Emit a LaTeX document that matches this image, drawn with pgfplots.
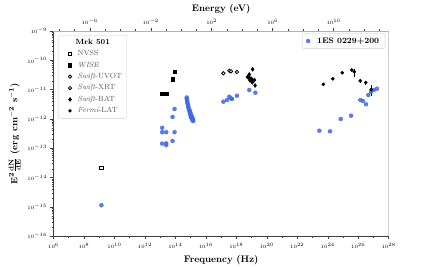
\documentclass[border=0pt]{standalone}
\usepackage{pgfplots}
\pgfplotsset{compat=1.18}
\definecolor{royal}{HTML}{4169E1}
\begin{document}
\begin{tikzpicture}
\begin{axis}[
  at={(0,0)}, anchor=south west,
  scale only axis, width=335.2pt, height=205.3pt,
  xmode=log, ymode=log,
  xmin=1e6, xmax=1e28, ymin=1e-16, ymax=1e-9,
  axis x line*=bottom, axis y line*=left,
  axis line style={black!75, line width=0.7pt, -},
  xtickten={6,8,10,12,14,16,18,20,22,24,26,28},
  minor xtick={1e7,1e9,1e11,1e13,1e15,1e17,1e19,1e21,1e23,1e25,1e27},
  ytickten={-16,-15,-14,-13,-12,-11,-10,-9},
  tick align=outside,
  major tick length=3pt, minor tick length=1.8pt,
  every tick/.style={black!75, line width=0.5pt},
  ticklabel style={font=\fontsize{5.5}{6}\selectfont},
  xlabel={\textbf{Frequency (Hz)}},
  ylabel={$\mathbf{E^{2}\frac{dN}{dE}}$ \textbf{(erg cm$^{\mathbf{-2}}$ s$^{\mathbf{-1}}$)}},
  label style={font=\fontsize{9.5}{11}\selectfont},
  legend cell align=left,
  legend style={at={(0.0143,0.9805)}, anchor=north west, draw=black!20, rounded corners=2pt,
    fill=white, font=\fontsize{7.5}{8.5}\selectfont, text=black!65, row sep=0.6pt,
    column sep=4pt, inner xsep=3pt, inner ysep=2pt},
]
\draw[black!30, line width=0.7pt] (rel axis cs:1,0) -- (rel axis cs:1,1);
% legend
\addlegendimage{empty legend}
\addlegendentry[text=black]{\hspace{-2pt}\textbf{Mrk 501}}
\addlegendimage{only marks, mark=square*, mark options={fill=white, draw=black, line width=0.8pt}, mark size=1.6pt}
\addlegendentry{NVSS}
\addlegendimage{only marks, mark=square*, black, mark size=1.6pt}
\addlegendentry{\textit{WISE}}
\addlegendimage{only marks, mark=*, mark options={fill=white, draw=black, line width=0.8pt}, mark size=1.7pt}
\addlegendentry{\textit{Swift}-UVOT}
\addlegendimage{only marks, mark=*, mark options={fill=white, draw=black, line width=0.8pt}, mark size=1.7pt}
\addlegendentry{\textit{Swift}-XRT}
\addlegendimage{only marks, mark=diamond*, black, mark size=2pt}
\addlegendentry{\textit{Swift}-BAT}
\addlegendimage{only marks, mark=*, black, mark size=1.5pt}
\addlegendentry{\textit{Fermi}-LAT}

% ---- 1ES 0229+200 (blue) ----
\addplot[only marks, mark=*, mark size=2pt, color=royal, opacity=0.85, forget plot] coordinates {
(1.4e9,1.148e-15)
(8.8e13,2.19e-12) (6.5e13,1.175e-12) (1.36e13,5.01e-13) (1.36e13,3.55e-13)
(2.5e13,3.55e-13) (8.8e13,3.55e-13) (1.36e13,1.445e-13) (2.5e13,1.479e-13)
(2.5e13,1.288e-13) (6.5e13,1.778e-13)
(5.52e14,5.41e-12) (5.61e14,4.81e-12) (5.78e14,4.27e-12) (6.05e14,3.79e-12)
(6.32e14,3.37e-12) (6.73e14,3.00e-12) (7.03e14,2.67e-12) (7.26e14,2.37e-12)
(7.82e14,2.11e-12) (8.18e14,1.945e-12) (9.10e14,1.87e-12) (8.83e14,1.66e-12)
(9.82e14,1.60e-12) (9.10e14,1.54e-12) (9.53e14,1.42e-12) (1.059e15,1.37e-12)
(1.140e15,1.265e-12) (1.028e15,1.216e-12) (1.230e15,1.17e-12) (1.059e15,1.125e-12)
(1.140e15,1.08e-12) (1.327e15,1.04e-12) (1.432e15,9.62e-13) (1.327e15,8.87e-13)
(1.500e15,8.53e-13)
(1.40e17,3.89e-12) (2.45e17,4.44e-12) (3.47e17,5.75e-12) (4.47e17,5.07e-12)
(5.25e17,4.81e-12) (1.10e18,6.22e-12) (7.08e18,9.73e-12) (1.78e19,7.87e-12)
(2.82e23,3.99e-13) (1.413e24,3.80e-13) (7.08e24,1.00e-12) (3.39e25,1.294e-12)
(1.38e26,4.44e-12) (2.04e26,4.10e-12) (3.24e26,3.17e-12) (4.57e26,6.58e-12)
(6.92e26,8.51e-12) (1.047e27,9.73e-12) (1.70e27,1.079e-11)
};

% ---- Mrk 501 ----
% NVSS
\addplot[only marks, mark=square*, mark options={fill=white, draw=black, line width=0.8pt}, mark size=1.6pt, forget plot] coordinates {(1.4e9,2.138e-14)};
% WISE
\addplot[only marks, mark=square*, black, mark size=1.6pt, forget plot] coordinates {
(8.8e13,4.07e-11) (6.5e13,2.29e-11) (2.5e13,7.24e-12) (1.36e13,7.08e-12)};
% Swift-XRT
\addplot[only marks, mark=*, mark options={fill=white, draw=black, line width=0.8pt}, mark size=1.7pt, forget plot] coordinates {
(1.40e17,3.61e-11) (3.47e17,4.43e-11) (4.47e17,4.23e-11) (1.10e18,4.00e-11)};
% Swift-BAT
\addplot[only marks, mark=diamond*, black, mark size=2pt, forget plot] coordinates {
(1.175e19,4.94e-11) (7.08e18,3.29e-11) (5.37e18,2.70e-11) (7.94e18,2.05e-11)
(1.122e19,1.78e-11) (1.70e19,1.387e-11) (1.55e19,2.13e-11) (9.12e18,2.40e-11)
(6.76e18,2.51e-11) (1.07e19,2.22e-11)};
% Fermi-LAT
\addplot[only marks, mark=*, black, mark size=1.6pt, forget plot,
  error bars/.cd, y dir=both, y explicit,
  error bar style={black, line width=0.8pt}, error mark=none] coordinates {
(5.13e23,1.524e-11) +- (0,0)
(2.14e24,2.34e-11) +- (0,0)
(8.91e24,3.76e-11) +- (0,0)
(3.72e25,4.68e-11) +- (0,0)
(5.50e25,4.06e-11) += (0,0.84e-11) -= (0,1.31e-11)
(1.349e26,2.00e-11) += (0,0.37e-11) -= (0,0.35e-11)
(3.09e26,1.754e-11) += (0,0.27e-11) -= (0,0.28e-11)
(7.08e26,1.01e-11) += (0,0.43e-11) -= (0,0.40e-11)
};
\end{axis}

\begin{axis}[
  at={(0,0)}, anchor=south west,
  scale only axis, width=335.2pt, height=205.3pt,
  xmode=log, xmin=4.135667e-9, xmax=4.135667e13, ymin=0, ymax=1,
  axis x line*=top, axis y line=none,
  axis line style={black!30, line width=0.7pt, -},
  xtickten={-6,-2,2,6,10},
  minor xtick={1e-8,1e-7,1e-5,1e-4,1e-3,1e-1,1,1e1,1e3,1e4,1e5,1e7,1e8,1e9,1e11,1e12,1e13},
  tick align=outside,
  major tick length=3pt, minor tick length=1.8pt,
  every tick/.style={black!75, line width=0.5pt},
  ticklabel style={font=\fontsize{5.5}{6}\selectfont},
  xlabel={\textbf{Energy (eV)}},
  xlabel style={yshift=-2pt},
  label style={font=\fontsize{9.5}{11}\selectfont},
  legend style={at={(0.990,0.9888)}, anchor=north east, draw=black!20, rounded corners=2pt,
    fill=white, font=\fontsize{8}{9}\selectfont, column sep=5pt, inner xsep=4pt, inner ysep=2pt},
]
\addlegendimage{only marks, mark=*, mark size=2pt, color=royal, opacity=0.85}
\addlegendentry{\textbf{1ES 0229+200}}
\end{axis}
\pgfresetboundingbox
\path (-53.5pt,-29.7pt) rectangle (378.5pt,236.3pt);
\end{tikzpicture}
\end{document}
